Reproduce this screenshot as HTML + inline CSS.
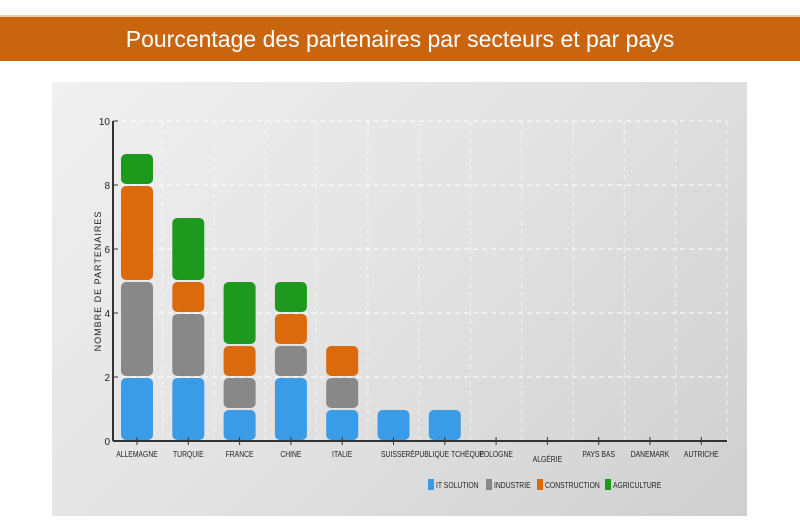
<!DOCTYPE html>
<html><head><meta charset="utf-8"><style>
body{margin:0;width:800px;height:530px;background:#fff;position:relative;overflow:hidden;font-family:"Liberation Sans",sans-serif}
#hdr{position:absolute;left:0;top:15px;width:800px;height:46px;background:#c9640f;border-top:2px solid #f0c8a0;box-sizing:border-box;color:#fff;font-size:23px;text-align:center;line-height:44px}
#panel{position:absolute;left:52px;top:82px;width:695px;height:434px;background:linear-gradient(135deg,#f0f0f0,#e2e2e2 50%,#cfcfcf)}
svg{position:absolute;left:0;top:0}
</style></head><body>
<div id="hdr">Pourcentage des partenaires par secteurs et par pays</div>
<div id="panel"></div>
<svg id="chart" width="800" height="530"></svg>
<script>
const categories=["ALLEMAGNE","TURQUIE","FRANCE","CHINE","ITALIE","SUISSE","RÉPUBLIQUE TCHÈQUE","POLOGNE","ALGÉRIE","PAYS BAS","DANEMARK","AUTRICHE"];
const seriesNames=["IT SOLUTION","INDUSTRIE","CONSTRUCTION","AGRICULTURE"];
const itSolution=[2,2,1,2,1,1,1,0,0,0,0,0];
const industrie=[3,2,1,1,1,0,0,0,0,0,0,0];
const construction=[3,1,1,1,1,0,0,0,0,0,0,0];
const agriculture=[1,2,2,1,0,0,0,0,0,0,0,0];
const yTicks=[0,2,4,6,8,10];
const colors=["#3a9be6","#888888","#db6a0c","#1d9a1d"];
const series=[itSolution,industrie,construction,agriculture];
const NS="http://www.w3.org/2000/svg";
const svg=document.getElementById('chart');
const x0=113,x1=727,yb=441,yt=121,ymax=10;
const step=51.3,first=137;
const X=i=>first+i*step;
const Y=v=>yb-(v/ymax)*(yb-yt);
function mk(t,a,p){const e=document.createElementNS(NS,t);for(const k in a)e.setAttribute(k,a[k]);(p||svg).appendChild(e);return e;}
function squeeze(t,f){const w=t.getComputedTextLength();t.setAttribute('textLength',w*f);t.setAttribute('lengthAdjust','spacingAndGlyphs');}
const font='"Liberation Sans",sans-serif';
yTicks.forEach(v=>{if(v>0){const g=mk('line',{x1:x0,x2:x1,y1:Y(v),y2:Y(v),stroke:'#fff','stroke-dasharray':'5,4','stroke-width':1});

}});
categories.forEach((c,i)=>{const g=mk('line',{x1:X(i)+step/2,x2:X(i)+step/2,y1:yt,y2:yb,stroke:'#fff','stroke-dasharray':'5,4','stroke-width':1,opacity:0.6});

});
categories.forEach((c,i)=>{let acc=0;series.forEach((s,k)=>{const v=s[i];if(v>0){const r=mk('rect',{x:X(i)-16,y:Y(acc+v)+1,width:32,height:Y(acc)-Y(acc+v)-2,rx:5,fill:colors[k]});

}acc+=v;});});
let a=mk('line',{x1:x0,x2:x0,y1:yt,y2:yb,stroke:'#333','stroke-width':2});


a=mk('line',{x1:x0,x2:x1,y1:yb,y2:yb,stroke:'#333','stroke-width':2});


yTicks.forEach(v=>{mk('line',{x1:x0,x2:x0+5,y1:Y(v),y2:Y(v),stroke:'#333'});const t=mk('text',{x:x0-3,y:Y(v)+4,'text-anchor':'end','font-size':10,'font-family':font,fill:'#222'});t.textContent=v;

});
categories.forEach((c,i)=>{mk('line',{x1:X(i),x2:X(i),y1:yb-4,y2:yb+4,stroke:'#333'});const t=mk('text',{x:X(i),y:i==8?462:457,'text-anchor':'middle','font-size':8.5,'font-family':font,fill:'#222'});t.textContent=c;squeeze(t,0.8);

});
const yt2=mk('text',{x:0,y:0,transform:'translate(101,281) rotate(-90)','text-anchor':'middle','font-size':9,'letter-spacing':1,'font-family':font,fill:'#222'});yt2.textContent='NOMBRE DE PARTENAIRES';


const lx=[428,486,537,605];
seriesNames.forEach((n,k)=>{const g=mk('g',{});


mk('rect',{x:lx[k],y:479,width:6,height:11,fill:colors[k]},g);const t=mk('text',{x:lx[k]+8,y:488,'font-size':8.5,'font-family':font,fill:'#222'},g);t.textContent=n;squeeze(t,0.8);});
</script>
</body></html>
